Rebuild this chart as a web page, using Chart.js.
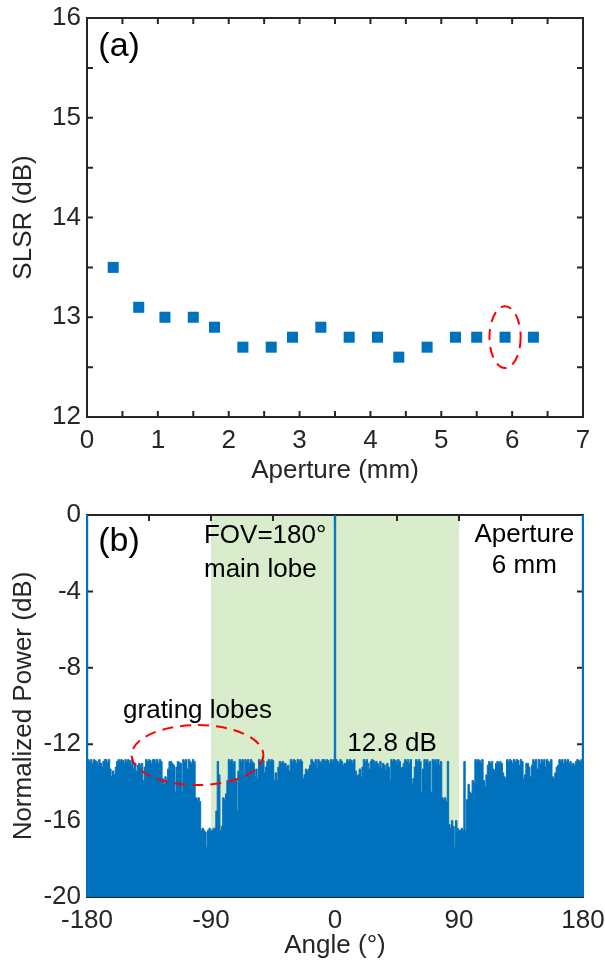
<!DOCTYPE html>
<html>
<head>
<meta charset="utf-8">
<script src="https://cdn.jsdelivr.net/npm/chart.js@4.4.0/dist/chart.umd.min.js"></script>
<style>
	html, body { margin: 0; padding: 0; background: #fff; }
	canvas { display: block; }
</style>
</head>
<body>
<canvas id="chartA" width="605" height="490"></canvas>
<canvas id="chartB" width="605" height="475"></canvas>
<script>
// ---- (a) SLSR against aperture ----
const apertureMm = [0.37, 0.73, 1.1, 1.5, 1.8, 2.2, 2.6, 2.9, 3.3, 3.7, 4.1, 4.4, 4.8, 5.2, 5.5, 5.9, 6.3];
const slsrDb = [13.5, 13.1, 13.0, 13.0, 12.9, 12.7, 12.7, 12.8, 12.9, 12.8, 12.8, 12.6, 12.7, 12.8, 12.8, 12.8, 12.8];
const apertureMarks = [0.5, 1, 1.5, 2, 2.5, 3, 3.5, 4, 4.5, 5, 5.5, 6, 6.5];
const slsrMarks = [12.5, 13, 13.5, 14, 14.5, 15, 15.5];

// ---- (b) far field of the 6 mm aperture, 1 degree steps from -180 ----
const angleStart = -180;
const angleStep = 1;
// -180 .. -120
const powerFarLeft = [0,
	-12.8, -12.9, -12.8, -13.0, -12.8, -12.85, -12.9, -13.1, -12.8,
	-13.0, -13.2, -12.9, -12.8,
	-12.8, -12.95, -12.8,
	-13.3, -13.7, -13.4, -13.6, -13.2, -12.9,
	-12.8, -12.9, -12.8, -12.85, -13.0, -12.8, -12.9, -12.8, -12.85, -13.1, -12.8,
	-13.3, -13.0, -13.4, -13.1,
	-13.0, -13.1, -13.0, -13.9, -13.2,
	-12.8, -12.9, -12.8, -12.85, -13.0, -12.8, -12.8, -12.95, -12.8, -13.0, -12.8, -12.9,
	-13.8, -14.1, -13.7, -13.9, -13.3, -12.9];
// -119 .. -60 (grating lobe notch round -90)
const powerLeftNotch = [
	-12.9, -13.0, -13.1,
	-14.5, -13.2,
	-12.9, -12.95, -13.0,
	-14.5,
	-12.8, -12.9, -12.8, -13.3, -12.8, -12.9, -13.0, -12.8, -12.9,
	-14.8, -14.9, -14.8, -15.0,
	-16.5, -16.4, -16.5, -16.6, -17.4,
	-16.5, -16.4, -16.5, -16.5, -16.4,
	-16.4, -15.5, -12.9, -13.6, -16.5, -16.3, -14.8, -14.9, -14.6, -13.9,
	-12.8, -12.9, -12.8, -13.0, -12.9,
	-13.9, -15.5, -13.4,
	-12.8, -12.9, -12.8, -13.6, -12.8, -12.9, -12.8, -13.0, -12.8, -12.9];
// -59 .. -1
const powerNearLeft = [
	-13.0, -13.7, -13.3, -13.8,
	-12.8, -12.9, -12.8, -12.85,
	-13.5, -13.2, -12.9,
	-12.8, -12.9, -12.8, -12.85,
	-13.9, -13.5, -13.9, -13.2,
	-12.9, -13.0, -12.9, -13.0,
	-13.0, -13.2, -13.1, -13.4,
	-12.8, -12.9, -12.8, -12.85, -13.0, -12.8, -12.9, -12.8, -12.9,
	-13.8, -13.6, -13.3, -13.4, -13.3, -13.1,
	-12.8, -12.9, -13.0, -12.8, -13.3, -12.8, -12.9, -13.0, -12.8,
	-12.8, -12.9, -12.8, -12.85, -13.0, -12.8, -12.9, -12.8];
// 0
const powerMainLobe = [0];
// 1 .. 60
const powerNearRight = [
	-12.8, -12.9, -13.0, -12.8, -12.9, -13.1,
	-13.0, -13.0,
	-12.8, -12.9, -12.8, -12.85, -13.0, -12.8,
	-13.4, -13.7, -13.6, -13.3, -13.7, -13.2,
	-12.8, -12.9, -12.8, -13.0, -13.3, -12.9, -12.8, -12.85, -13.0, -12.9,
	-13.0, -13.2, -12.9, -13.3, -13.0, -13.1, -13.4, -13.0, -13.2, -13.9,
	-12.8, -12.9, -12.8, -12.85, -13.0, -12.8, -12.9,
	-13.3, -13.2, -13.0,
	-12.8, -12.9, -12.8, -13.0, -12.8,
	-14.1, -13.8, -13.2,
	-12.8, -12.9];
// 61 .. 120 (grating lobe notch round +90)
const powerRightNotch = [
	-12.8, -12.9,
	-14.5, -13.3,
	-12.8, -12.9, -12.8, -13.0, -12.9,
	-14.5,
	-12.8, -12.9, -12.8, -13.0, -12.8, -13.1, -12.9,
	-14.8, -14.9, -14.8, -15.0,
	-12.9,
	-16.2, -16.4, -16.0, -16.3,
	-17.4,
	-16.0, -16.4, -16.5, -16.5, -16.4, -16.5,
	-12.9,
	-16.5, -14.9, -14.1,
	-14.5, -14.6, -13.9, -14.0,
	-12.8, -12.9, -12.8, -12.85, -13.0, -12.8,
	-13.9, -14.2, -13.6, -13.1,
	-12.9, -13.0, -12.9, -13.3, -13.4, -13.0, -12.9, -13.0, -12.9];
// 121 .. 180
const powerFarRight = [
	-13.0, -13.5, -13.7,
	-13.8,
	-12.8, -12.9, -12.8, -12.85, -13.0, -12.8, -12.9, -12.8, -12.85, -13.1, -12.8, -12.9,
	-13.8, -13.6, -13.0,
	-13.0, -13.2, -13.7, -13.1,
	-12.8, -12.9, -12.8, -13.3, -12.8, -13.0, -12.8, -12.9, -12.8, -13.2, -12.8, -12.9, -13.0, -12.8,
	-13.7, -13.8, -13.5, -13.2, -13.1,
	-12.8, -12.9, -12.8, -13.0, -12.8, -12.9, -12.8, -13.0, -12.9,
	-13.1, -13.0, -13.1, -12.9,
	-12.8, -12.85, -12.9, -12.8,
	0];
const angleMarks = [-135, -90, -45, 0, 45, 90, 135];
const powerMarks = [-4, -8, -12, -16];

const BLUE = "#0072BD";
const INK = "#262626";
const FAMILY = '"Liberation Sans", Arial, sans-serif';
Chart.defaults.font.family = FAMILY;

function frameAndMarks(chart, xMarks, yMarks, len) {
	let ctx = chart.ctx;
	let a = chart.chartArea;
	let xs = chart.scales.x;
	let ys = chart.scales.y;
	ctx.save();
	ctx.strokeStyle = INK;
	ctx.lineWidth = 2;
	ctx.strokeRect(a.left, a.top, a.right - a.left, a.bottom - a.top);
	ctx.beginPath();
	xMarks.forEach((v) => {
		let p = xs.getPixelForValue(v);
		ctx.moveTo(p, a.top);
		ctx.lineTo(p, a.top + len);
		ctx.moveTo(p, a.bottom);
		ctx.lineTo(p, a.bottom - len);
	});
	yMarks.forEach((v) => {
		let p = ys.getPixelForValue(v);
		ctx.moveTo(a.left, p);
		ctx.lineTo(a.left + len, p);
		ctx.moveTo(a.right, p);
		ctx.lineTo(a.right - len, p);
	});
	ctx.stroke();
	ctx.restore();
}

function note(chart, text, x, y, size, align) {
	let ctx = chart.ctx;
	ctx.save();
	ctx.font = size + "px " + FAMILY;
	ctx.fillStyle = "#000";
	ctx.textAlign = align;
	ctx.textBaseline = "alphabetic";
	ctx.fillText(text, chart.scales.x.getPixelForValue(x), chart.scales.y.getPixelForValue(y));
	ctx.restore();
}

function dashedEllipse(chart, cx, cy, rx, ry) {
	let ctx = chart.ctx;
	let xs = chart.scales.x;
	let ys = chart.scales.y;
	let px = xs.getPixelForValue(cx);
	let py = ys.getPixelForValue(cy);
	let rpx = Math.abs(xs.getPixelForValue(cx + rx) - px);
	let rpy = Math.abs(ys.getPixelForValue(cy + ry) - py);
	ctx.save();
	ctx.strokeStyle = "#FF0000";
	ctx.lineWidth = 2;
	ctx.setLineDash([11, 7]);
	ctx.beginPath();
	ctx.ellipse(px, py, rpx, rpy, 0, 0, Math.PI * 2);
	ctx.stroke();
	ctx.restore();
}

// fixed axis boxes so both plot frames line up with the figure
function fixBox(size) {
	return (s) => {
		if (s.isHorizontal()) s.height = size;
		else s.width = size;
		s.paddingLeft = 0;
		s.paddingRight = 0;
		s.paddingTop = 0;
		s.paddingBottom = 0;
	};
}

const tickFont = { size: 26, lineHeight: 1 };

let chartA = new Chart(document.getElementById("chartA"), {
	type: "scatter",
	data: {
		datasets: [
			{
				data: apertureMm.map((x, i) => ({ x: x, y: slsrDb[i] })),
				pointStyle: "rect",
				pointRadius: 7.8,
				pointHoverRadius: 7.8,
				backgroundColor: BLUE,
				borderWidth: 0,
			},
		],
	},
	options: {
		responsive: false,
		animation: false,
		devicePixelRatio: 1,
		layout: { padding: { left: 0, right: 22, top: 18, bottom: 0 } },
		plugins: { legend: { display: false }, tooltip: { enabled: false } },
		scales: {
			x: {
				type: "linear",
				min: 0,
				max: 7,
				grid: { display: false, drawTicks: false },
				border: { display: false },
				ticks: { stepSize: 1, padding: 11, color: INK, font: tickFont, maxRotation: 0 },
				title: { display: true, text: "Aperture (mm)", color: INK, font: tickFont, padding: { top: 0, bottom: 6 } },
				afterFit: fixBox(73),
			},
			y: {
				min: 12,
				max: 16,
				grid: { display: false, drawTicks: false },
				border: { display: false },
				ticks: { stepSize: 1, padding: 6, color: INK, font: tickFont },
				title: { display: true, text: "SLSR (dB)", color: INK, font: tickFont, padding: { top: 11, bottom: 0 } },
				afterFit: fixBox(87),
			},
		},
	},
	plugins: [
		{
			id: "panelA",
			beforeDatasetsDraw(chart) {
				frameAndMarks(chart, apertureMarks, slsrMarks, 6);
			},
			afterDatasetsDraw(chart) {
				note(chart, "(a)", 0.16, 15.62, 34, "left");
				dashedEllipse(chart, 5.9, 12.8, 0.22, 0.31);
			},
		},
	],
});

let powerDb = [].concat(powerFarLeft, powerLeftNotch, powerNearLeft, powerMainLobe,
	powerNearRight, powerRightNotch, powerFarRight);
let pattern = powerDb.map((p, i) => ({ x: angleStart + i * angleStep, y: p }));

let chartB = new Chart(document.getElementById("chartB"), {
	type: "line",
	data: {
		datasets: [
			{
				data: pattern,
				borderColor: BLUE,
				backgroundColor: BLUE,
				borderWidth: 1,
				pointRadius: 0,
				stepped: "middle",
				fill: "start",
			},
		],
	},
	options: {
		responsive: false,
		animation: false,
		devicePixelRatio: 1,
		layout: { padding: { left: 0, right: 22, top: 25, bottom: 0 } },
		plugins: { legend: { display: false }, tooltip: { enabled: false } },
		scales: {
			x: {
				type: "linear",
				min: -180,
				max: 180,
				grid: { display: false, drawTicks: false },
				border: { display: false },
				ticks: { stepSize: 90, padding: 11, color: INK, font: tickFont, maxRotation: 0 },
				title: { display: true, text: "Angle (°)", color: INK, font: tickFont, padding: { top: 0, bottom: 6 } },
				afterFit: fixBox(68),
			},
			y: {
				min: -20,
				max: 0,
				grid: { display: false, drawTicks: false },
				border: { display: false },
				ticks: { stepSize: 4, padding: 6, color: INK, font: tickFont },
				title: { display: true, text: "Normalized Power (dB)", color: INK, font: tickFont, padding: { top: 11, bottom: 0 } },
				afterFit: fixBox(87),
			},
		},
	},
	plugins: [
		{
			id: "panelB",
			beforeDatasetsDraw(chart) {
				let ctx = chart.ctx;
				let a = chart.chartArea;
				let x0 = chart.scales.x.getPixelForValue(-90);
				let x1 = chart.scales.x.getPixelForValue(90);
				ctx.save();
				ctx.fillStyle = "#D9EDCC";
				ctx.fillRect(x0, a.top, x1 - x0, a.bottom - a.top);
				ctx.restore();
				frameAndMarks(chart, angleMarks, powerMarks, 6);
			},
			afterDatasetsDraw(chart) {
				let ctx = chart.ctx;
				let a = chart.chartArea;
				let xs = chart.scales.x;
				let ys = chart.scales.y;
				// the +-180 samples of the trace sit on the side borders
				ctx.save();
				ctx.strokeStyle = BLUE;
				ctx.lineWidth = 2;
				ctx.beginPath();
				ctx.moveTo(xs.getPixelForValue(angleStart), ys.getPixelForValue(powerFarLeft[0]));
				ctx.lineTo(xs.getPixelForValue(angleStart), a.bottom);
				ctx.moveTo(xs.getPixelForValue(180), ys.getPixelForValue(powerFarRight[powerFarRight.length - 1]));
				ctx.lineTo(xs.getPixelForValue(180), a.bottom);
				ctx.stroke();
				ctx.restore();
				note(chart, "(b)", -171.8, -1.9, 34, "left");
				note(chart, "FOV=180°", -95.1, -1.48, 26, "left");
				note(chart, "main lobe", -95.1, -3.26, 26, "left");
				note(chart, "Aperture", 137.4, -1.4, 26, "center");
				note(chart, "6 mm", 137.4, -3.02, 26, "center");
				note(chart, "grating lobes", -99.8, -10.63, 26, "center");
				note(chart, "12.8 dB", 8.9, -12.34, 26, "left");
				dashedEllipse(chart, -99.8, -12.57, 47.8, 1.57);
			},
		},
	],
});
</script>
</body>
</html>
